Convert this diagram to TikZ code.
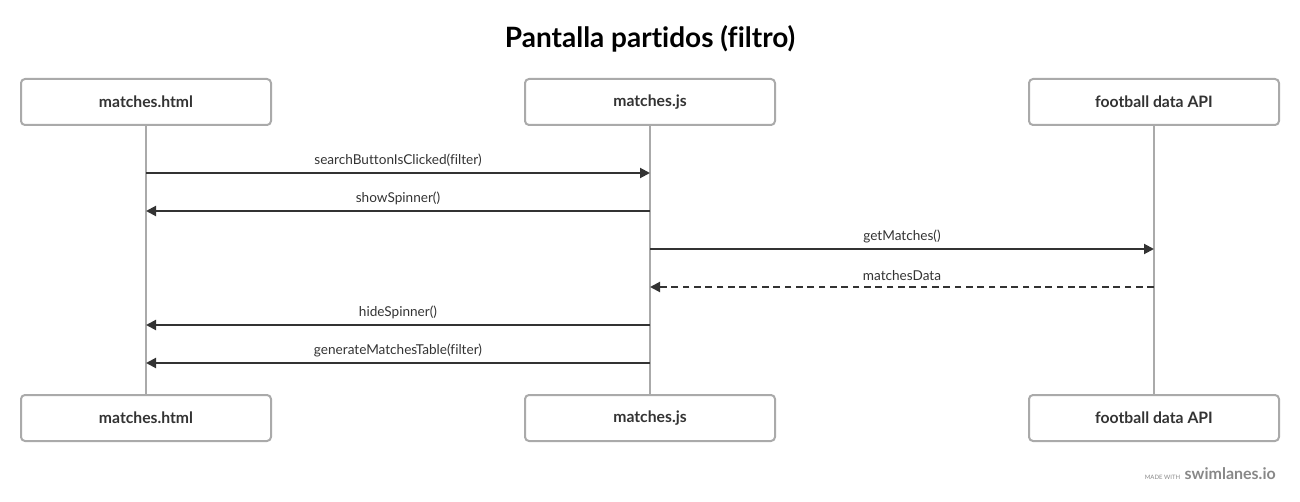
\documentclass[tikz,border=0pt]{standalone}
\usepackage{fontspec}
\setmainfont[Ligatures=NoCommon]{Lato}
\usetikzlibrary{arrows.meta}
\definecolor{boxgray}{HTML}{AAAAAA}
\definecolor{ink}{HTML}{333333}
\definecolor{foot}{HTML}{888888}
\begin{document}
\begin{tikzpicture}[x=0.75pt,y=-0.75pt,
  actor/.style={draw=boxgray,line width=1.5pt,rounded corners=3pt,fill=white,
    minimum width=187.5pt,minimum height=34.5pt,inner sep=0pt,
    font=\fontsize{11.8}{14}\selectfont\bfseries,text=ink},
  life/.style={draw=boxgray,line width=1.5pt},
  msg/.style={draw=ink,line width=1.5pt,-{Triangle[length=7.5pt,width=7.5pt]}},
  reply/.style={msg,dash pattern=on 5pt off 3.5pt},
  lbl/.style={font=\fontsize{10.2}{12}\selectfont,text=ink,inner sep=0pt}]
\useasboundingbox (0,0) rectangle (1300,502);
\node[font=\fontsize{21}{25}\selectfont\bfseries,text=black] (title) at (650,39) {Pantalla partidos (filtro)};
\node[actor] (a1) at (146,102) {matches.html};
\node[actor] (a2) at (650,102) {matches.js};
\node[actor] (a3) at (1154,102) {football data API};
\node[actor] (b1) at (146,418) {matches.html};
\node[actor] (b2) at (650,418) {matches.js};
\node[actor] (b3) at (1154,418) {football data API};
\draw[life] (a1) -- (b1);
\draw[life] (a2) -- (b2);
\draw[life] (a3) -- (b3);
\foreach \i/\y in {1/173,2/211,3/249,4/287,5/325,6/363}{
  \coordinate (l\i) at (146,\y);
  \coordinate (m\i) at (650,\y);
  \coordinate (r\i) at (1154,\y);
}
\draw[msg] (l1) -- node[lbl,above=4pt] {searchButtonIsClicked(filter)} (m1);
\draw[msg] (m2) -- node[lbl,above=4pt] {showSpinner()} (l2);
\draw[msg] (m3) -- node[lbl,above=4pt] {getMatches()} (r3);
\draw[reply] (r4) -- node[lbl,above=4pt] {matchesData} (m4);
\draw[msg] (m5) -- node[lbl,above=4pt] {hideSpinner()} (l5);
\draw[msg] (m6) -- node[lbl,above=4pt] {generateMatchesTable(filter)} (l6);
\node[anchor=base east,font=\fontsize{12}{14}\selectfont\bfseries,text=foot,inner sep=0pt] (sw) at (1276,479) {swimlanes.io};
\node[anchor=base east,font=\fontsize{4.5}{5}\selectfont,text=foot,inner sep=0pt] (mw) at ([xshift=-3pt]sw.base west) {MADE WITH};
\end{tikzpicture}
\end{document}
